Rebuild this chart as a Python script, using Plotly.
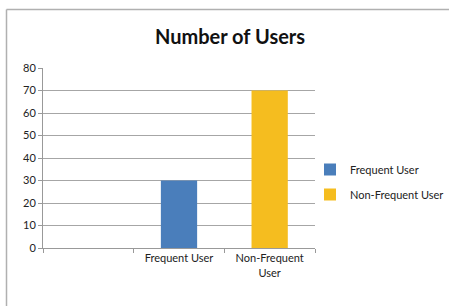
import plotly.graph_objects as go

categories = ["", "Frequent User", "Non-Frequent User"]
tick_labels = ["", "Frequent User", "Non-Frequent<br>User"]
series_names = ["Frequent User", "Non-Frequent User"]
frequent_values = [None, 30, None]
non_frequent_values = [None, None, 70]
colors = ["#4A7EBB", "#F5BD1F"]

cat_keys = ["c0", "c1", "c2"]

fig = go.Figure()
fig.add_trace(go.Bar(x=cat_keys, y=frequent_values, name=series_names[0],
                     marker=dict(color=colors[0], line=dict(width=0)),
                     legendgroup="a"))
fig.add_trace(go.Bar(x=cat_keys, y=non_frequent_values, name=series_names[1],
                     marker=dict(color=colors[1], line=dict(width=0)),
                     legendgroup="b"))

font_family = "Lato, 'Open Sans', sans-serif"

pw, ph = 272.0, 180.0
fig.update_layout(
    width=449, height=306,
    margin=dict(l=43, r=134, t=68, b=58, autoexpand=False),
    paper_bgcolor="white", plot_bgcolor="white",
    barmode="overlay", bargap=0.6,
    title=dict(text="<b>Number of Users</b>", x=230 / 449, xanchor="center",
               y=1 - 37 / 306, yanchor="middle",
               font=dict(family=font_family, size=20, color="#111111")),
    font=dict(family=font_family, size=11, color="#222222"),
    legend=dict(x=(310 - 43) / pw, xanchor="left", y=(248 - 182) / ph, yanchor="middle",
                font=dict(size=11, color="#222222"),
                tracegroupgap=6, traceorder="grouped", itemwidth=30,
                bgcolor="rgba(0,0,0,0)"),
    xaxis=dict(type="category", tickvals=cat_keys, ticktext=tick_labels,
               showgrid=False, showline=True, linecolor="#999999", linewidth=1,
               ticks="outside", tickson="boundaries", ticklen=4, tickcolor="#999999",
               tickfont=dict(size=11, color="#222222")),
    yaxis=dict(range=[0, 80], dtick=10, showgrid=True, gridcolor="#A6A6A6", gridwidth=1,
               showline=True, linecolor="#999999", linewidth=1,
               ticks="outside", ticklen=4, tickcolor="#999999",
               zeroline=False,
               tickfont=dict(size=11, color="#222222")),
    shapes=[
        dict(type="line", xref="paper", yref="paper",
             x0=(6.5 - 43) / pw, x1=(470 - 43) / pw,
             y0=(248 - 9.5) / ph, y1=(248 - 9.5) / ph,
             line=dict(color="#B0B0B0", width=1.5), layer="below"),
        dict(type="line", xref="paper", yref="paper",
             x0=(6.5 - 43) / pw, x1=(6.5 - 43) / pw,
             y0=(248 - 9.5) / ph, y1=(248 - 320) / ph,
             line=dict(color="#B0B0B0", width=1.5), layer="below"),
    ],
)

fig.write_html("out.html", config={"displayModeBar": False},
               post_script="document.body.style.margin='0';document.body.style.overflow='hidden';")
